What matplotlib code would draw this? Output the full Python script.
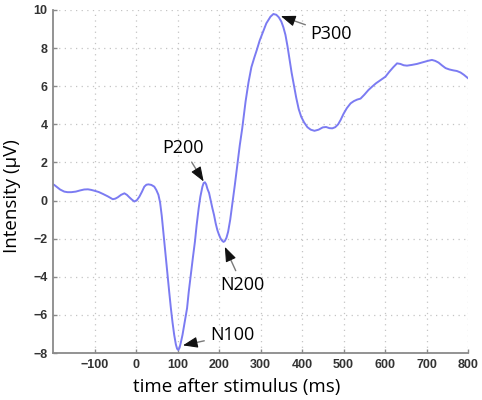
import matplotlib
matplotlib.use("Agg")
import matplotlib.pyplot as plt
import numpy as np

# Data
time_ms = [-200, -197, -190, -183, -173, -165, -156, -145, -135, -125, -116, -108, -101, -90, -80,
           -68, -60, -56, -50, -44, -36, -28, -22, -16, -10, -4, 2, 8, 14, 20, 25, 30, 37, 44, 49,
           54, 58, 62, 68, 72, 76, 80, 84, 88, 92, 96, 99, 102, 105, 108, 112, 117, 123, 127, 132,
           137, 142, 146, 151, 155, 160, 163, 166, 169, 172, 176, 180, 184, 188, 192, 196, 200, 204,
           208, 211, 214, 218, 222, 227, 232, 238, 244, 250, 256, 264, 271, 278, 285, 291, 298, 305,
           314, 324, 331, 338, 344, 350, 355, 360, 365, 370, 375, 380, 386, 392, 398, 405, 413, 421,
           430, 440, 450, 458, 466, 473, 480, 487, 493, 500, 508, 517, 525, 533, 541, 550, 560, 569,
           578, 590, 601, 610, 620, 629, 637, 645, 653, 665, 677, 690, 703, 713, 721, 729, 738, 746,
           755, 765, 773, 782, 790, 800]
intensity = [0.85, 0.82, 0.7, 0.58, 0.47, 0.44, 0.44, 0.47, 0.53, 0.58, 0.59, 0.56, 0.52, 0.45, 0.35,
             0.22, 0.12, 0.07, 0.1, 0.17, 0.3, 0.38, 0.3, 0.17, 0.05, -0.05, 0.02, 0.2, 0.45, 0.73,
             0.83, 0.85, 0.82, 0.73, 0.55,
             0.3, -0.1, -0.8, -2.15, -3.0, -3.9, -4.8, -5.65, -6.4, -7.05, -7.55, -7.78, -7.84, -7.72,
             -7.45, -7.05, -6.4, -5.65, -4.8, -3.9,
             -3.0, -2.15, -1.3, -0.4, 0.2, 0.73, 0.92, 0.96, 0.85, 0.62, 0.4, 0.0, -0.4, -0.76, -1.2,
             -1.55, -1.8, -2.0,
             -2.12, -2.17, -2.12, -1.95, -1.63, -1.0, -0.2, 0.8, 1.85, 2.9, 3.8, 5.2, 6.2, 7.0, 7.5,
             7.9, 8.4, 8.8,
             9.3, 9.65, 9.79, 9.75, 9.62, 9.4, 9.1, 8.7, 8.1, 7.4, 6.7, 6.1, 5.4, 4.8, 4.4, 4.1, 3.85,
             3.72,
             3.66, 3.72, 3.84, 3.86, 3.8, 3.79, 3.85, 4.0, 4.23, 4.55, 4.85, 5.1, 5.22, 5.3, 5.35, 5.55,
             5.8, 5.98,
             6.15, 6.33, 6.5, 6.75, 7.0, 7.2, 7.17, 7.1, 7.08, 7.12, 7.17, 7.25, 7.33, 7.38, 7.33, 7.24,
             7.08, 6.95,
             6.88, 6.83, 6.8, 6.72, 6.6, 6.42]

x_ticks = [-100, 0, 100, 200, 300, 400, 500, 600, 700, 800]
y_ticks = [-8, -6, -4, -2, 0, 2, 4, 6, 8, 10]

peak_labels = ["P200", "P300", "N200", "N100"]
peak_tips_x = [163, 349, 214, 113]
peak_tips_y = [1.0, 9.68, -2.43, -7.6]
label_x = [113, 471, 256, 231]
label_y = [2.76, 8.74, -4.43, -7.05]

fig = plt.figure(figsize=(4.82, 4.0), dpi=100)
ax = fig.add_axes([0.110, 0.1175, 0.861, 0.8575])

ax.plot(time_ms, intensity, color="#7b7bf2", lw=1.4)

ax.set_xlim(-200, 800)
ax.set_ylim(-8, 10)
ax.set_xticks(x_ticks)
ax.set_yticks(y_ticks)
ax.set_xticklabels([str(t).replace("-", "\u2212") for t in x_ticks])
ax.set_yticklabels([str(t).replace("-", "\u2212") for t in y_ticks])

ax.grid(True, color="#c4c4c4", linestyle=(0, (1, 3.5)), lw=0.9)
ax.set_axisbelow(True)
for s in ["top", "right"]:
    ax.spines[s].set_visible(False)
for s in ["left", "bottom"]:
    ax.spines[s].set_color("#8a8a8a")
    ax.spines[s].set_linewidth(1.3)
ax.tick_params(direction="in", length=3, width=1, color="#8a8a8a",
               labelsize=9, labelcolor="#333333", pad=4)
for lab in ax.get_xticklabels() + ax.get_yticklabels():
    lab.set_family("Liberation Sans")
    lab.set_fontweight("bold")

ax.set_xlabel("time after stimulus (ms)", family="Open Sans", fontsize=13.5, color="#000000")
ax.set_ylabel("Intensity (\u00b5V)", family="Open Sans", fontsize=13.5, color="#000000")
ax.xaxis.set_label_coords(0.443, -0.072)
ax.yaxis.set_label_coords(-0.077, 0.458)

for name, tx, ty, lx, ly in zip(peak_labels, peak_tips_x, peak_tips_y, label_x, label_y):
    # gray shaft from label to peak
    ax.annotate(name, xy=(tx, ty), xytext=(lx, ly), ha="center", va="center",
                family="Open Sans", fontsize=13, color="#000000",
                arrowprops=dict(arrowstyle="-", color="#7a7a7a", lw=1.0,
                                shrinkA=2, shrinkB=4))
    # black arrow head at the peak
    p_tip = ax.transData.transform((tx, ty))
    p_txt = ax.transData.transform((lx, ly))
    d = p_txt - p_tip
    d = d / np.hypot(*d)
    ax.annotate("", xy=(tx, ty), xytext=(d[0] * 11, d[1] * 11), textcoords="offset pixels",
                arrowprops=dict(arrowstyle="-|>,head_length=0.75,head_width=0.28",
                                color="#111111", lw=0.8, shrinkA=0, shrinkB=0,
                                mutation_scale=12))

fig.savefig("out.png", dpi=100)
